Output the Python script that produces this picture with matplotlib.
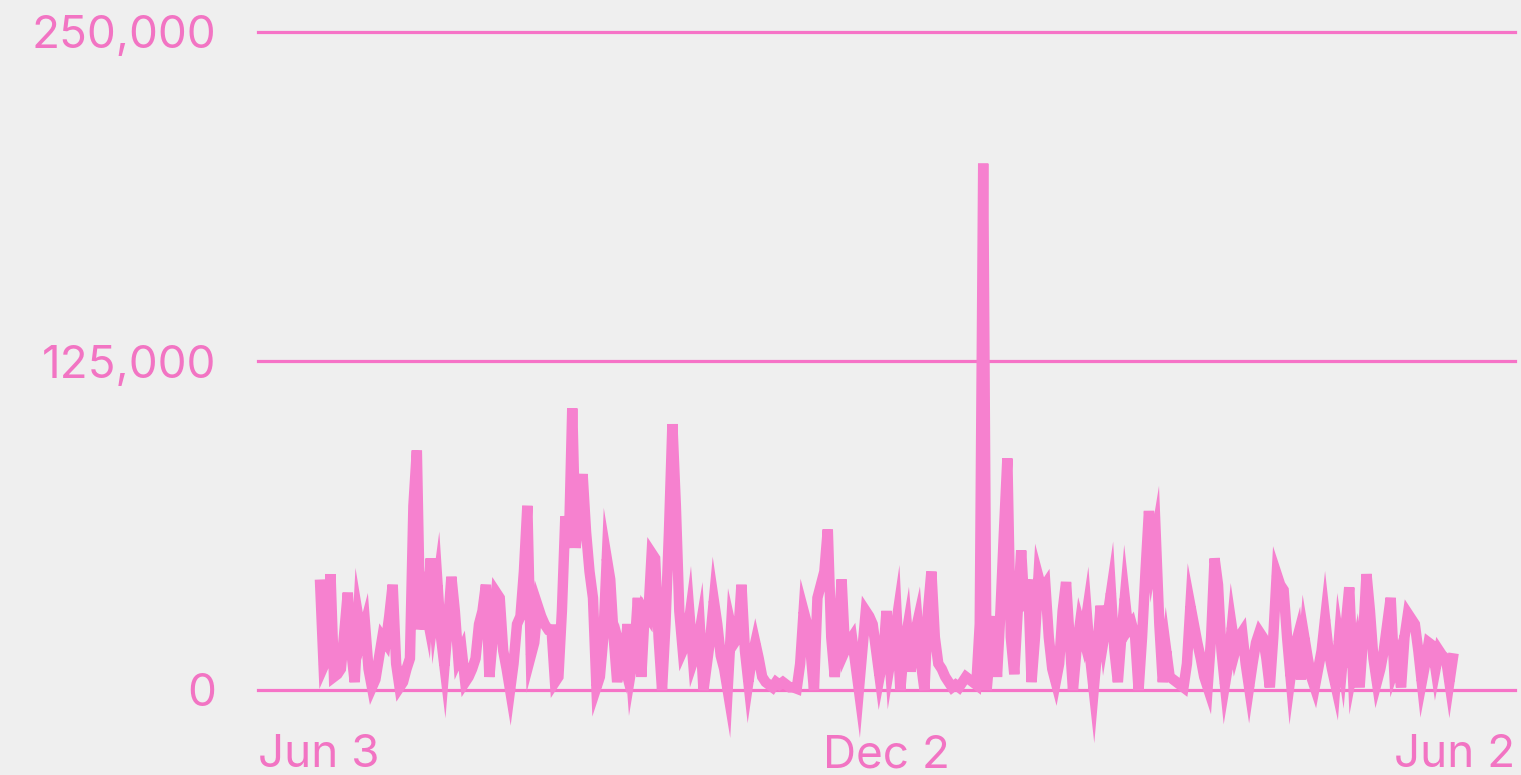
import pandas as pd
import matplotlib
matplotlib.use("Agg")
import matplotlib.pyplot as plt
import matplotlib.dates as mdates

# --- Data (daily values, thousands) ---
start_date = "2018-06-21"
values_k = [
    40, 9, 12, 44, 5, 6, 8,
    22, 37, 15, 3, 28, 20, 25,
    8, 1, 4, 12, 20, 18, 28,
    40, 10, 1, 3, 8, 12, 70,
    91, 23, 35, 28, 50, 30, 40,
    20, 9, 25, 43, 30, 12, 15,
    3, 5, 8, 12, 25, 30, 40,
    5, 20, 37, 35, 15, 8, 0,
    10, 25, 28, 45, 70, 13, 18,
    32, 28, 25, 23, 23, 3, 5,
    30, 66, 54, 107, 54, 70, 82,
    60, 45, 35, 1, 5, 20, 50,
    42, 20, 3, 15, 10, 25, 7,
    15, 35, 5, 30, 28, 52, 50,
    20, 0, 25, 60, 101, 70, 30,
    15, 18, 28, 11, 15, 23, 0,
    10, 20, 34, 25, 13, 8, 0,
    24, 18, 20, 40, 15, 3, 12,
    18, 12, 5, 3, 2, 1, 3,
    2, 3, 2, 1, 1, 0.5, 10,
    30, 25, 15, 0, 35, 40, 45,
    61, 20, 5, 20, 42, 15, 18,
    20, 10, 0, 15, 30, 28, 25,
    15, 5, 12, 30, 10, 18, 27,
    0, 15, 23, 7, 20, 26, 10,
    0, 30, 45, 20, 10, 8, 5,
    3, 1, 2, 1, 3, 5, 4,
    3, 2, 25, 200, 0, 15, 28,
    5, 30, 60, 88, 20, 6, 30,
    53, 30, 42, 3, 20, 43, 38,
    40, 20, 8, 3, 10, 30, 41,
    20, 0, 15, 25, 20, 29, 12,
    0, 15, 32, 20, 28, 37, 15,
    3, 20, 35, 23, 25, 20, 0,
    20, 45, 68, 50, 58, 25, 3,
    15, 5, 4, 3, 2, 1, 10,
    32, 25, 18, 12, 5, 1, 20,
    50, 40, 15, 2, 10, 24, 15,
    20, 22, 10, 1, 10, 18, 22,
    20, 12, 1, 20, 44, 40, 38,
    20, 5, 15, 20, 4, 20, 12,
    5, 1, 8, 15, 27, 15, 8,
    2, 19, 10, 25, 39, 8, 15,
    1, 20, 44, 30, 12, 3, 8,
    15, 25, 35, 8, 12, 1, 20,
    29, 27, 25, 15, 3, 10, 18,
    17, 8, 15, 13, 12, 3, 12,
]
y_ticks = [0, 125000, 250000]
x_tick_dates = ["2018-06-03", "2018-12-02", "2019-06-02"]
x_tick_labels = ["Jun 3", "Dec 2", "Jun 2"]

dates = pd.date_range(start_date, periods=len(values_k), freq="D")
values = [v * 1000 for v in values_k]

# --- Style ---
bg = "#efefef"
line_color = "#f681cf"
grid_color = "#f673c7"
text_color = "#f274c3"

fig = plt.figure(figsize=(15.21, 7.75), dpi=100, facecolor=bg)
ax = fig.add_axes([258 / 1521, 85 / 775, (1515 - 258) / 1521, (690 - 32) / 775])
ax.set_facecolor(bg)

for t in y_ticks:
    ax.axhline(t, color=grid_color, lw=2.3, zorder=1, clip_on=False)

ax.plot(dates, values, color=line_color, lw=7.5, solid_joinstyle="miter",
        zorder=2, clip_on=False)

ax.set_xlim(pd.Timestamp(x_tick_dates[0]), pd.Timestamp(x_tick_dates[-1]))
ax.set_ylim(0, 250000)

ax.set_yticks(y_ticks)
ax.set_yticklabels([f"{t:,}" for t in y_ticks])
ax.set_xticks([mdates.date2num(pd.Timestamp(d)) for d in x_tick_dates])
ax.set_xticklabels(x_tick_labels)

ax.tick_params(axis="both", length=0, labelcolor=text_color, labelsize=33)
ax.tick_params(axis="y", pad=30)
ax.tick_params(axis="x", pad=32)
for lab in ax.get_yticklabels() + ax.get_xticklabels():
    lab.set_family(["Inter", "DejaVu Sans"])
xl = ax.get_xticklabels()
xl[0].set_ha("left")
xl[-1].set_ha("right")

for s in ax.spines.values():
    s.set_visible(False)

fig.savefig("out.png", dpi=100, facecolor=bg)
